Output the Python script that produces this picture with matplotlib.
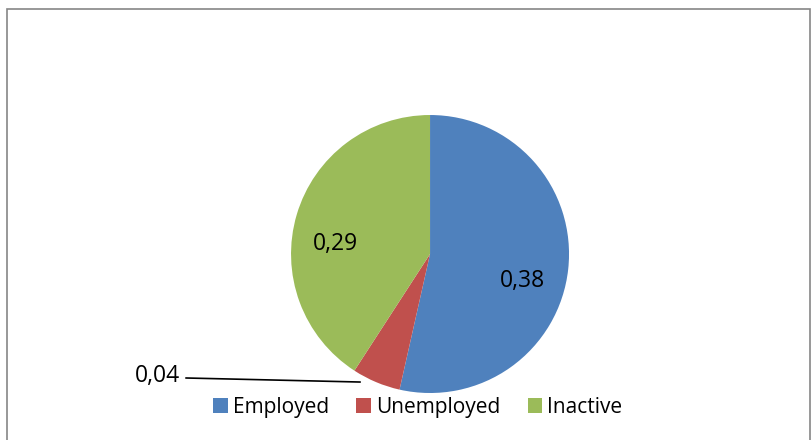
import matplotlib
matplotlib.use("Agg")
import matplotlib.pyplot as plt
from matplotlib.patches import Rectangle

categories = ["Employed", "Unemployed", "Inactive"]
values = [0.38, 0.04, 0.29]
value_labels = ["0,38", "0,04", "0,29"]
colors = ["#4F81BD", "#C0504D", "#9BBB59"]

plt.rcParams['font.family'] = ['Open Sans', 'DejaVu Sans']

fig = plt.figure(figsize=(8.12, 4.4), dpi=100)
fig.patch.set_facecolor("white")

# frame like the excel chart area
fig.add_artist(Rectangle((7/812, -0.05), (810-7)/812, 1.05 - 9/440,
                         transform=fig.transFigure, fill=False,
                         edgecolor="#868686", linewidth=1.2))

ax = fig.add_axes([0.3584, 0.1068, 0.3424, 0.6318])
wedges, _ = ax.pie(values, colors=colors, startangle=90, counterclock=False,
                   radius=1.0)
ax.set_xlim(-1, 1)
ax.set_ylim(-1, 1)
ax.set_aspect("equal")
ax.axis("off")

ax.text(0.662, -0.194, value_labels[0], ha="center", va="center", fontsize=16.5)
ax.text(-0.683, 0.072, value_labels[2], ha="center", va="center", fontsize=16.5)
ax.text(-1.80, -0.878, value_labels[1], ha="right", va="center", fontsize=16.5,
        clip_on=False)
ax.plot([-1.755, -0.504], [-0.892, -0.921], color="black", linewidth=1.2,
        clip_on=False)

fig.legend(wedges, categories, loc="center", bbox_to_anchor=(418/812, 1 - 407/440),
           ncol=3, frameon=False, fontsize=15, handlelength=0.7,
           handleheight=0.7, handletextpad=0.25, columnspacing=1.3)

fig.savefig("out.png", dpi=100)
